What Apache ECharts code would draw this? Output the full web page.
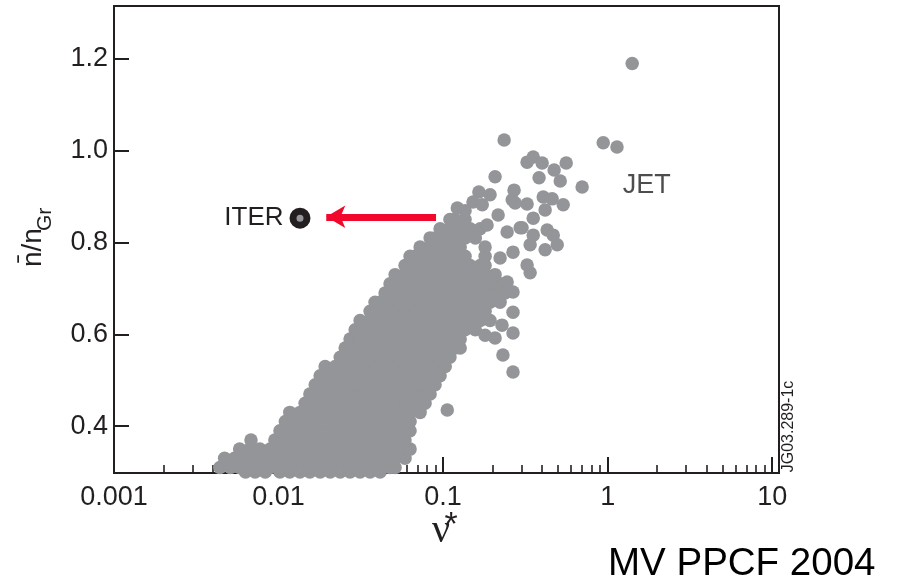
<!DOCTYPE html>
<html><head><meta charset="utf-8">
<script src="https://cdn.jsdelivr.net/npm/echarts@6/dist/echarts.min.js"></script>
<style>html,body{margin:0;padding:0;background:#fff}#chart{width:897px;height:582px}</style>
</head><body><div id="chart"></div>
<script>
// ---- tick values ----
const xTickValues = [0.001, 0.01, 0.1, 1, 10];
const xMinorValues = [0.002,0.003,0.004,0.005,0.006,0.007,0.008,0.009,
  0.02,0.03,0.04,0.05,0.06,0.07,0.08,0.09,
  0.2,0.3,0.4,0.5,0.6,0.7,0.8,0.9,
  2,3,4,5,6,7,8,9];
const yTickValues = [0.4, 0.6, 0.8, 1.0, 1.2];

// ---- dense JET data cloud (read row by row: n/nGr level and the ν* values on it) ----
const cloudRowY = [0.30,0.31,0.33,0.35,0.37,0.39,0.41,0.43,0.45,0.47,0.49,0.51,0.53,0.55,0.57,
  0.59,0.61,0.63,0.65,0.67,0.69,0.71,0.73,0.75,0.77,0.79,0.81,0.83,0.85];
const cloudRowX = [
  [.0063,.0072,.0083,.0102,.0117,.0135,.0155,.0179,.0206,.0237,.0272,.0313,.036,.0414],
  [.0044,.0051,.0058,.0067,.0077,.0089,.0102,.0117,.0135,.0155,.0179,.0206,.0237,.0272,.0313,.036,.0414,.0476,.0511],
  [.0047,.0054,.0063,.0072,.0083,.0095,.011,.0126,.0145,.0167,.0192,.0221,.0254,.0292,.0336,.0386,.0444,.0511,.0587],
  [.0058,.0067,.0077,.0089,.0102,.0117,.0135,.0155,.0179,.0206,.0237,.0272,.0313,.036,.0414,.0476,.0548,.063],
  [.0068,.0095,.011,.0126,.0145,.0167,.0192,.0221,.0254,.0292,.0336,.0386,.0444,.0511,.0587],
  [.0102,.0117,.0135,.0155,.0179,.0206,.0237,.0272,.0313,.036,.0414,.0476,.0548,.063],
  [.011,.0126,.0145,.0167,.0192,.0221,.0254,.0292,.0336,.0386,.0444,.0511,.0587,.063],
  [.0117,.0135,.0155,.0179,.0206,.0237,.0272,.0313,.036,.0414,.0476,.0548,.063,.0725],
  [.0145,.0167,.0192,.0221,.0254,.0292,.0336,.0386,.0444,.0511,.0587,.0676,.0777],
  [.0155,.0179,.0206,.0237,.0272,.0313,.036,.0414,.0476,.0548,.063,.0725,.0834],
  [.0167,.0192,.0221,.0254,.0292,.0336,.0386,.0444,.0511,.0587,.0676,.0777,.0894],
  [.0179,.0206,.0237,.0272,.0313,.036,.0414,.0476,.0548,.063,.0725,.0834,.0959],
  [.0192,.0221,.0254,.0292,.0336,.0386,.0444,.0511,.0587,.0676,.0777,.0894,.103],
  [.0237,.0272,.0313,.036,.0414,.0476,.0548,.063,.0725,.0834,.0959,.11],
  [.0254,.0292,.0336,.0386,.0444,.0511,.0587,.0676,.0777,.0894,.103,.118,.127],
  [.0272,.0313,.036,.0414,.0476,.0548,.063,.0725,.0834,.0959,.11,.127],
  [.0292,.0336,.0386,.0444,.0511,.0587,.0676,.0777,.0894,.103,.118,.136,.157],
  [.0313,.036,.0414,.0476,.0548,.063,.0725,.0834,.0959,.11,.127,.146,.168,.193],
  [.036,.0386,.0444,.0511,.0587,.0676,.0777,.0894,.103,.118,.136,.157,.18],
  [.0386,.0414,.0476,.0548,.063,.0725,.0834,.0959,.11,.127,.146,.168,.193,.222],
  [.0444,.0511,.0587,.0676,.0777,.0894,.103,.118,.136,.157,.18,.207,.238],
  [.0476,.0548,.063,.0725,.0834,.0959,.11,.127,.146,.168,.193,.222],
  [.0511,.0587,.0676,.0777,.0894,.103,.118,.136,.157,.18,.207],
  [.0587,.063,.0725,.0834,.0959,.11,.127,.146,.168,.18],
  [.063,.0676,.0777,.0894,.103,.118,.136,.18],
  [.0725,.0834,.0959,.11,.127,.18],
  [.0834,.0894,.103,.118,.136,.157],
  [.0959,.11,.127,.146,.168],
  [.11,.118,.136]
];
// ---- individual (sparser) JET points ----
const sparseNu = [1.41,0.94,1.14,0.235,0.324,0.353,0.40,0.56,0.473,0.515,0.383,0.207,0.70,0.165,0.193,0.152,0.122,0.136,
  0.270,0.263,0.324,0.406,0.46,0.537,0.417,0.353,0.302,0.429,0.494,0.338,0.231,0.467,0.417,0.353,0.338,0.266,0.324,
  0.222,0.193,0.245,0.266,0.201,0.216,0.185,0.245,0.294,0.173,0.274,
  0.266,0.228,0.266,0.207,0.231,0.266,0.18,0.106];
const sparseN = [1.19,1.017,1.008,1.023,0.975,0.986,0.973,0.973,0.958,0.934,0.941,0.943,0.921,0.910,0.904,0.888,0.875,0.869,
  0.914,0.893,0.884,0.899,0.895,0.882,0.871,0.853,0.832,0.827,0.795,0.734,0.690,0.816,0.784,0.816,0.795,0.779,0.751,
  0.766,0.723,0.714,0.692,0.679,0.860,0.838,0.823,0.832,0.882,0.886,
  0.648,0.620,0.603,0.592,0.555,0.518,0.598,0.435];

const iterPoint = [0.0135, 0.853];
const jetLabelPoint = [1.225, 0.925];
const arrowStart = [0.0906, 0.856];
const arrowEnd = [0.0195, 0.856];

const cloudData = [];
cloudRowX.forEach((xs, i) => xs.forEach(x => cloudData.push([x, cloudRowY[i]])));
sparseNu.forEach((x, i) => cloudData.push([x, sparseN[i]]));

const INK = '#231f20';
const GREY = '#939598';
const RED = '#f2072d';
const FONT = 'Liberation Sans, Arial, Helvetica, sans-serif';

const chart = echarts.init(document.getElementById('chart'), null, {renderer: 'canvas'});
chart.setOption({
  animation: false,
  backgroundColor: '#fff',
  grid: {left: 114, top: 6, width: 665, height: 467, show: true, borderColor: INK, borderWidth: 2,
         containLabel: false, outerBoundsMode: 'none'},
  xAxis: [{
    type: 'log', logBase: 10, min: 0.001, max: 11, position: 'bottom',
    axisLine: {show: true, onZero: false, lineStyle: {color: INK, width: 2}},
    axisTick: {show: true, inside: true, length: 16, customValues: xTickValues, lineStyle: {color: INK, width: 2}},
    axisLabel: {show: true, customValues: xTickValues, margin: 11, fontSize: 27, fontFamily: FONT, color: INK,
                formatter: v => String(v)},
    splitLine: {show: false}, minorTick: {show: false}
  }, {
    type: 'log', logBase: 10, min: 0.001, max: 11, position: 'bottom', gridIndex: 0,
    axisLine: {show: false},
    axisTick: {show: true, inside: true, length: 8, customValues: xMinorValues, lineStyle: {color: INK, width: 1.6}},
    axisLabel: {show: false},
    splitLine: {show: false}
  }],
  yAxis: {
    type: 'value', min: 0.298, max: 1.315,
    axisLine: {show: true, onZero: false, lineStyle: {color: INK, width: 2}},
    axisTick: {show: true, inside: true, length: 15, customValues: yTickValues, lineStyle: {color: INK, width: 2}},
    axisLabel: {show: true, customValues: yTickValues, margin: 6, fontSize: 27, fontFamily: FONT, color: INK,
                formatter: v => v.toFixed(1)},
    splitLine: {show: false}
  },
  series: [{
    type: 'scatter', name: 'JET', data: cloudData, symbol: 'circle', symbolSize: 13.5,
    itemStyle: {color: GREY, opacity: 1}, emphasis: {disabled: true}, silent: true, z: 2
  }, {
    type: 'scatter', name: 'ITER', data: [iterPoint], symbol: 'circle', symbolSize: 14,
    itemStyle: {color: GREY, borderColor: INK, borderWidth: 7, opacity: 1},
    label: {show: true, position: 'left', distance: 6, formatter: 'ITER', fontSize: 26, fontFamily: FONT, color: INK},
    emphasis: {disabled: true}, silent: true, z: 4,
    markLine: {
      silent: true, animation: false, symbol: ['none', 'arrow'], symbolSize: [17, 19],
      lineStyle: {color: RED, width: 7, type: 'solid', opacity: 1},
      label: {show: false}, emphasis: {disabled: true},
      data: [[{coord: arrowStart}, {coord: arrowEnd}]]
    }
  }, {
    type: 'scatter', name: 'JETlabel', data: [jetLabelPoint], symbolSize: 1,
    itemStyle: {color: 'rgba(0,0,0,0)'},
    label: {show: true, position: 'right', distance: 0, formatter: 'JET', fontSize: 27, fontFamily: FONT, color: INK},
    emphasis: {disabled: true}, silent: true, z: 4
  }],
  graphic: [
    {type: 'group', x: 43, y: 267, rotation: Math.PI / 2, children: [
      {type: 'text', x: 0, y: -10, style: {text: 'n\u0304/n', fontSize: 28, fontFamily: FONT, fill: INK, align: 'left', verticalAlign: 'middle'}},
      {type: 'text', x: 36, y: 2, style: {text: 'Gr', fontSize: 21, fontFamily: FONT, fill: INK, align: 'left', verticalAlign: 'middle'}}
    ]},
    {type: 'text', x: 441, y: 531, style: {text: '\u03BD', fontSize: 40, fontFamily: 'Liberation Serif, Times New Roman, serif', fill: INK, align: 'center', verticalAlign: 'middle'}},
    {type: 'text', x: 451, y: 526, style: {text: '*', fontSize: 34, fontFamily: FONT, fill: INK, align: 'center', verticalAlign: 'middle'}},
    {type: 'text', x: 788.5, y: 426.5, rotation: Math.PI / 2, style: {text: 'JG03.289-1c', fontSize: 16, fontFamily: FONT, fill: INK, align: 'center', verticalAlign: 'middle'}},
    {type: 'text', x: 608, y: 564.5, style: {text: 'MV PPCF 2004', fontSize: 38.5, fontFamily: FONT, fill: '#000', align: 'left', verticalAlign: 'middle'}}
  ]
});
</script></body></html>
